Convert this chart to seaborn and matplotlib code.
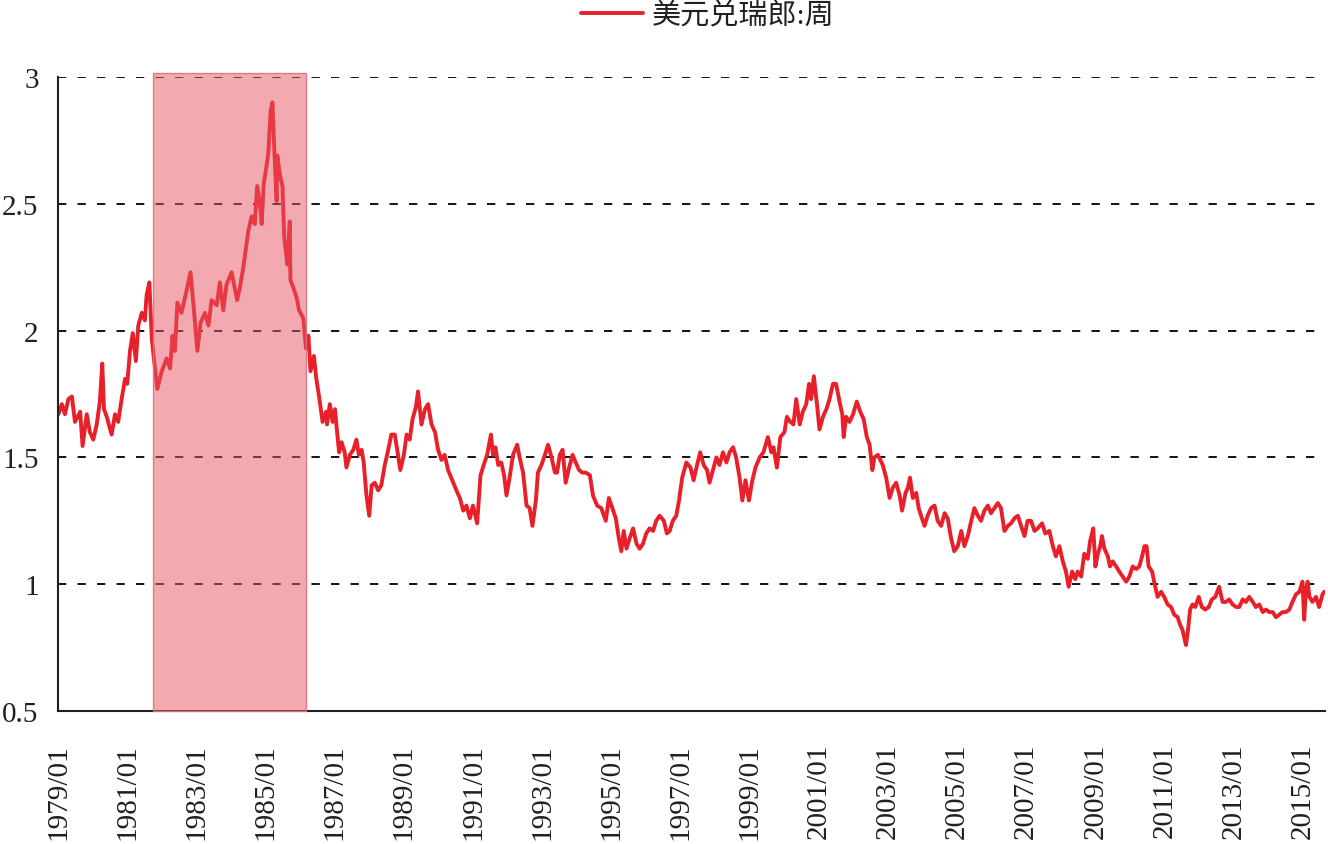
import numpy as np
import pandas as pd
import matplotlib
matplotlib.use("Agg")
import matplotlib.pyplot as plt
import matplotlib.dates as mdates
import seaborn as sns

# USD/CHF weekly (decimal year, rate)
yr_79_86 = [1979.01, 1979.11, 1979.20, 1979.30, 1979.40, 1979.49, 1979.64, 1979.71, 1979.83, 1979.92,
            1980.02, 1980.12, 1980.21, 1980.28, 1980.33, 1980.41, 1980.55, 1980.65, 1980.74, 1980.84,
            1980.94, 1981.00, 1981.08, 1981.16, 1981.25, 1981.32, 1981.42, 1981.51, 1981.56, 1981.64,
            1981.71, 1981.77, 1981.87, 1982.00, 1982.14, 1982.24, 1982.31, 1982.38, 1982.45, 1982.57,
            1982.72, 1982.83, 1982.93, 1983.03, 1983.12, 1983.25, 1983.35, 1983.44, 1983.59, 1983.68,
            1983.78, 1983.87, 1984.02, 1984.18, 1984.26, 1984.36, 1984.50, 1984.60, 1984.69, 1984.76,
            1984.84, 1984.89, 1984.95, 1985.03, 1985.08, 1985.15, 1985.20, 1985.26, 1985.32, 1985.34,
            1985.42, 1985.49, 1985.54, 1985.63, 1985.70, 1985.72, 1985.80, 1985.90, 1985.97, 1986.09]
px_79_86 = [1.67, 1.71, 1.67, 1.73, 1.74, 1.64, 1.68, 1.545, 1.67, 1.60,
            1.57, 1.63, 1.72, 1.87, 1.69, 1.66, 1.59, 1.67, 1.64, 1.73,
            1.81, 1.79, 1.92, 1.99, 1.88, 2.02, 2.07, 2.04, 2.14, 2.19,
            1.97, 1.89, 1.77, 1.84, 1.89, 1.85, 1.98, 1.92, 2.11, 2.07,
            2.16, 2.23, 2.08, 1.92, 2.03, 2.07, 2.02, 2.12, 2.10, 2.19,
            2.08, 2.18, 2.23, 2.12, 2.17, 2.25, 2.39, 2.45, 2.42, 2.57,
            2.50, 2.42, 2.58, 2.65, 2.70, 2.87, 2.90, 2.69, 2.51, 2.69,
            2.61, 2.57, 2.37, 2.26, 2.43, 2.20, 2.17, 2.13, 2.08, 2.05]

yr_86_96 = [1986.17, 1986.24, 1986.30, 1986.40, 1986.46, 1986.57, 1986.65, 1986.75, 1986.78, 1986.86,
            1986.94, 1987.01, 1987.07, 1987.13, 1987.20, 1987.29, 1987.34, 1987.44, 1987.54, 1987.63,
            1987.70, 1987.78, 1987.84, 1987.92, 1988.00, 1988.07, 1988.16, 1988.26, 1988.35, 1988.45,
            1988.55, 1988.64, 1988.74, 1988.81, 1988.90, 1989.00, 1989.08, 1989.17, 1989.25, 1989.35,
            1989.41, 1989.51, 1989.61, 1989.70, 1989.80, 1989.90, 1989.99, 1990.09, 1990.18, 1990.28,
            1990.43, 1990.52, 1990.62, 1990.72, 1990.81, 1990.91, 1991.00, 1991.12, 1991.22, 1991.31,
            1991.41, 1991.52, 1991.58, 1991.65, 1991.73, 1991.82, 1991.90, 1991.97, 1992.06, 1992.16,
            1992.28, 1992.35, 1992.45, 1992.55, 1992.64, 1992.72, 1992.82, 1992.88, 1992.98, 1993.08,
            1993.17, 1993.27, 1993.37, 1993.43, 1993.51, 1993.59, 1993.68, 1993.78, 1993.88, 1993.97,
            1994.07, 1994.16, 1994.26, 1994.38, 1994.47, 1994.59, 1994.71, 1994.84, 1994.93, 1995.03,
            1995.13, 1995.22, 1995.29, 1995.36, 1995.44, 1995.53, 1995.63, 1995.73, 1995.82, 1995.92,
            1996.01, 1996.11, 1996.21, 1996.30, 1996.40, 1996.52, 1996.61, 1996.69]
px_86_96 = [1.93, 1.98, 1.84, 1.90, 1.82, 1.72, 1.64, 1.68, 1.63, 1.71,
            1.64, 1.69, 1.60, 1.52, 1.56, 1.52, 1.46, 1.51, 1.53, 1.57,
            1.51, 1.53, 1.48, 1.35, 1.27, 1.39, 1.40, 1.37, 1.39, 1.47,
            1.53, 1.59, 1.59, 1.53, 1.45, 1.51, 1.59, 1.57, 1.65, 1.70,
            1.76, 1.63, 1.69, 1.71, 1.63, 1.60, 1.53, 1.49, 1.51, 1.45,
            1.40, 1.37, 1.34, 1.29, 1.31, 1.26, 1.31, 1.24, 1.43, 1.47,
            1.51, 1.59, 1.51, 1.54, 1.47, 1.48, 1.43, 1.35, 1.42, 1.51,
            1.55, 1.50, 1.44, 1.31, 1.30, 1.23, 1.33, 1.44, 1.47, 1.51,
            1.55, 1.50, 1.44, 1.44, 1.51, 1.53, 1.40, 1.46, 1.51, 1.48,
            1.45, 1.44, 1.44, 1.43, 1.35, 1.31, 1.30, 1.25, 1.34, 1.30,
            1.26, 1.18, 1.13, 1.21, 1.14, 1.18, 1.22, 1.16, 1.14, 1.16,
            1.20, 1.22, 1.21, 1.25, 1.27, 1.25, 1.20, 1.21]

yr_96_06 = [1996.78, 1996.88, 1996.96, 1997.05, 1997.17, 1997.29, 1997.38, 1997.48, 1997.57, 1997.67,
            1997.77, 1997.84, 1997.94, 1998.04, 1998.13, 1998.23, 1998.33, 1998.42, 1998.52, 1998.61,
            1998.71, 1998.79, 1998.88, 1998.98, 1999.08, 1999.17, 1999.29, 1999.40, 1999.53, 1999.63,
            1999.69, 1999.79, 1999.89, 2000.01, 2000.08, 2000.18, 2000.27, 2000.35, 2000.45, 2000.54,
            2000.64, 2000.72, 2000.78, 2000.86, 2000.95, 2001.02, 2001.12, 2001.22, 2001.31, 2001.41,
            2001.50, 2001.60, 2001.68, 2001.72, 2001.79, 2001.89, 2001.99, 2002.10, 2002.20, 2002.30,
            2002.39, 2002.47, 2002.55, 2002.61, 2002.71, 2002.85, 2002.95, 2003.05, 2003.14, 2003.24,
            2003.34, 2003.41, 2003.51, 2003.58, 2003.64, 2003.72, 2003.82, 2003.89, 2003.96, 2004.06,
            2004.15, 2004.25, 2004.35, 2004.44, 2004.54, 2004.64, 2004.73, 2004.83, 2004.92, 2005.02,
            2005.12, 2005.21, 2005.31, 2005.41, 2005.50, 2005.60, 2005.69, 2005.79, 2005.89, 2005.98,
            2006.08, 2006.18, 2006.27]
px_96_06 = [1.25, 1.27, 1.33, 1.42, 1.48, 1.46, 1.41, 1.47, 1.52, 1.47,
            1.45, 1.40, 1.45, 1.50, 1.47, 1.52, 1.48, 1.52, 1.54, 1.50,
            1.42, 1.33, 1.41, 1.33, 1.41, 1.46, 1.50, 1.52, 1.58, 1.52,
            1.54, 1.46, 1.58, 1.60, 1.66, 1.64, 1.63, 1.73, 1.63, 1.68,
            1.71, 1.79, 1.73, 1.82, 1.71, 1.61, 1.66, 1.69, 1.73, 1.79,
            1.79, 1.72, 1.67, 1.58, 1.66, 1.64, 1.67, 1.72, 1.68, 1.65,
            1.58, 1.55, 1.45, 1.50, 1.51, 1.47, 1.42, 1.34, 1.38, 1.40,
            1.35, 1.29, 1.36, 1.38, 1.42, 1.34, 1.36, 1.30, 1.27, 1.23,
            1.27, 1.30, 1.31, 1.25, 1.23, 1.28, 1.26, 1.18, 1.13, 1.15,
            1.21, 1.15, 1.19, 1.25, 1.30, 1.27, 1.25, 1.29, 1.31, 1.28,
            1.30, 1.32, 1.30]

yr_06_15 = [2006.37, 2006.47, 2006.56, 2006.66, 2006.76, 2006.85, 2006.95, 2007.04, 2007.14, 2007.24,
            2007.33, 2007.46, 2007.55, 2007.67, 2007.77, 2007.86, 2007.96, 2008.06, 2008.15, 2008.23,
            2008.33, 2008.42, 2008.49, 2008.59, 2008.68, 2008.78, 2008.85, 2008.94, 2009.00, 2009.07,
            2009.14, 2009.19, 2009.26, 2009.36, 2009.42, 2009.50, 2009.60, 2009.69, 2009.79, 2009.89,
            2009.98, 2010.08, 2010.18, 2010.27, 2010.35, 2010.42, 2010.48, 2010.54, 2010.64, 2010.73,
            2010.80, 2010.90, 2010.99, 2011.09, 2011.19, 2011.28, 2011.38, 2011.45, 2011.52, 2011.62,
            2011.68, 2011.74, 2011.81, 2011.89, 2011.99, 2012.08, 2012.18, 2012.28, 2012.37, 2012.47,
            2012.58, 2012.68, 2012.78, 2012.87, 2012.97, 2013.07, 2013.16, 2013.26, 2013.35, 2013.45,
            2013.55, 2013.64, 2013.74, 2013.84, 2013.93, 2014.03, 2014.13, 2014.22, 2014.32, 2014.41,
            2014.51, 2014.61, 2014.70, 2014.80, 2014.90, 2014.99, 2015.04, 2015.09, 2015.14, 2015.19,
            2015.28, 2015.38, 2015.47, 2015.57, 2015.62]
px_06_15 = [1.21, 1.23, 1.24, 1.26, 1.27, 1.23, 1.19, 1.25, 1.25, 1.21,
            1.22, 1.24, 1.20, 1.21, 1.15, 1.11, 1.15, 1.09, 1.05, 0.99,
            1.05, 1.02, 1.05, 1.03, 1.12, 1.10, 1.17, 1.22, 1.07, 1.12,
            1.15, 1.19, 1.14, 1.11, 1.07, 1.09, 1.07, 1.05, 1.03, 1.01,
            1.03, 1.07, 1.06, 1.07, 1.11, 1.15, 1.15, 1.07, 1.05, 0.99,
            0.95, 0.97, 0.95, 0.92, 0.91, 0.88, 0.87, 0.84, 0.82, 0.76,
            0.82, 0.90, 0.92, 0.91, 0.95, 0.91, 0.90, 0.91, 0.94, 0.95,
            0.99, 0.93, 0.93, 0.94, 0.92, 0.91, 0.91, 0.94, 0.93, 0.95,
            0.93, 0.91, 0.92, 0.89, 0.90, 0.89, 0.89, 0.87, 0.88, 0.89,
            0.89, 0.90, 0.93, 0.96, 0.97, 1.01, 0.86, 0.98, 1.01, 0.95,
            0.93, 0.95, 0.91, 0.96, 0.97]

band_start, band_end = 1981.75, 1986.17
tick_years = list(range(1979, 2016, 2))
y_ticks = [0.5, 1, 1.5, 2, 2.5, 3]
y_labels = ["0.5", "1", "1.5", "2", "2.5", "3"]
series_name = "美元兑瑞郎:周"


def to_date(y):
    base = pd.Timestamp(year=int(y), month=1, day=1)
    return base + pd.Timedelta(days=(y - int(y)) * 365.25)


years = yr_79_86 + yr_86_96 + yr_96_06 + yr_06_15
rates = px_79_86 + px_86_96 + px_96_06 + px_06_15
df = pd.DataFrame({"date": [to_date(y) for y in years], "rate": rates})

sns.set_theme(style="white")
plt.rcParams["font.family"] = ["Liberation Serif", "Noto Sans CJK SC"]
ink = "#231F20"

fig = plt.figure(figsize=(13.28, 8.45), dpi=100)
ax = fig.add_axes([0.0437, 0.1574, 0.954, 0.7503])

sns.lineplot(data=df, x="date", y="rate", color="#E8202A", lw=2.8,
             estimator=None, sort=False, ax=ax, label=series_name)

ax.axvspan(to_date(band_start), to_date(band_end), ymin=0, ymax=1.006,
           facecolor=(231 / 255, 85 / 255, 97 / 255, 0.5),
           edgecolor=(0.85, 0.45, 0.5, 0.9), lw=1, zorder=3, clip_on=False)

ax.set_ylim(0.5, 3)
ax.set_xlim(to_date(1979.0), to_date(2015.64))
ax.set_yticks(y_ticks)
ax.set_yticklabels(y_labels)
ax.set_xticks([pd.Timestamp(year=y, month=1, day=1) for y in tick_years])
ax.xaxis.set_major_formatter(mdates.DateFormatter("%Y/%m"))
ax.set_xlabel("")
ax.set_ylabel("")

ax.yaxis.grid(True, linestyle=(0, (4.6, 6.2)), color="black", lw=1.3)
ax.xaxis.grid(False)

ax.tick_params(axis="x", direction="in", length=7, width=1.2, color=ink,
               pad=23, labelsize=21, labelrotation=90, labelcolor=ink)
ax.tick_params(axis="y", length=0, pad=14, labelsize=21, labelcolor=ink)
for s in ["top", "right"]:
    ax.spines[s].set_visible(False)
for s in ["left", "bottom"]:
    ax.spines[s].set_color(ink)
    ax.spines[s].set_linewidth(1.5)

handles, labels = ax.get_legend_handles_labels()
ax.get_legend().remove()
fig.legend(handles, labels, loc="upper center", bbox_to_anchor=(0.533, 1.01),
           frameon=False, fontsize=21, handlelength=2.1, handletextpad=0.3,
           borderaxespad=0, labelcolor=ink)

fig.savefig("out.png", dpi=100)
